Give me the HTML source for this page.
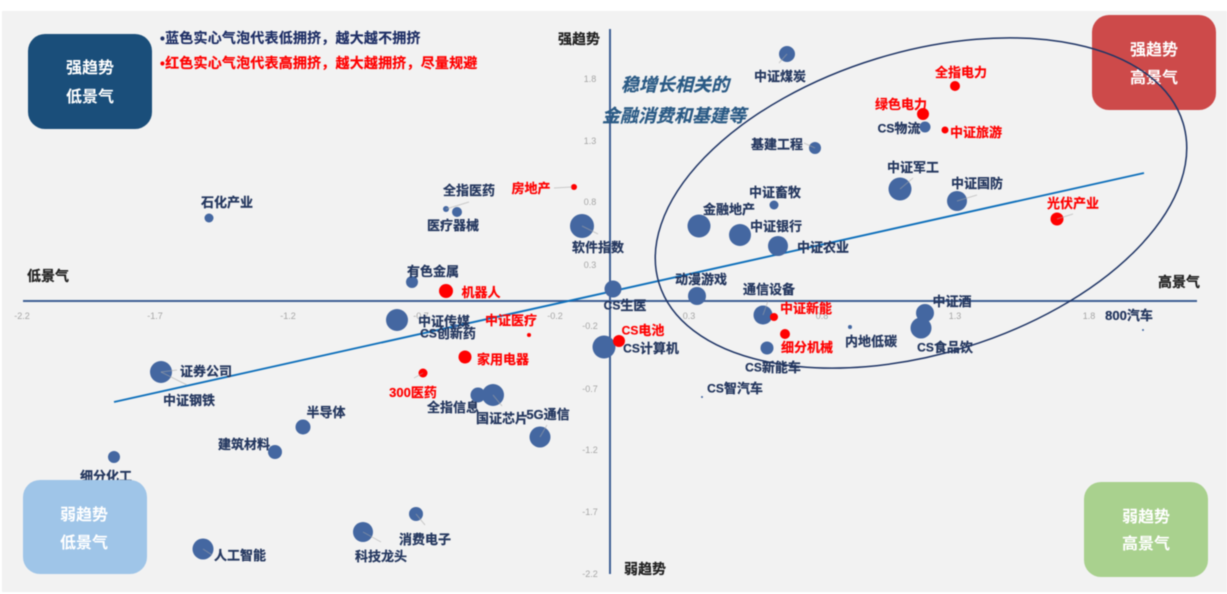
<!DOCTYPE html>
<html lang="zh"><head><meta charset="utf-8"><title>景气趋势气泡图</title>
<style>
html,body{margin:0;padding:0;background:#fff;width:1227px;height:594px;overflow:hidden}
svg{display:block;filter:blur(.5px)}
text{font-family:"Liberation Sans","Noto Sans CJK SC",sans-serif;font-weight:700;text-anchor:middle;dominant-baseline:central}
.l{font-size:13px;fill:#24375f;stroke:#24375f;stroke-width:.25;transform:translate(0,.5px)}
.r{font-size:13px;fill:#f00;stroke:#f00;stroke-width:.2;transform:translate(0,.5px)}
.t{font-size:9px;font-weight:400;fill:#a6a6a6}
.a{font-size:14px;fill:#222;stroke:#222;stroke-width:.2}
.b{font-size:16px;fill:#fff;transform:translate(0,.5px)}
.i{font-size:18px;fill:#2a5a85;stroke:#2a5a85;stroke-width:.2;font-style:italic}
.lg{font-size:14px;text-anchor:start;stroke-width:.2;letter-spacing:.2px}
.cs{font-size:12px}
.bb circle{fill:#4467a1}
.rb circle{fill:#f00}
.ld line{stroke:#a8a8a8;stroke-width:1;stroke-opacity:.55}
</style></head><body>
<svg width="1227" height="594" viewBox="0 0 1227 594" xmlns="http://www.w3.org/2000/svg">
<rect x="2" y="11" width="1225" height="581" fill="#f2f2f2"/>

<!-- Axes -->
<line x1="23" y1="301" x2="1197" y2="301" stroke="#3f5f95" stroke-width="2"/>
<line x1="610" y1="29" x2="610" y2="574" stroke="#3f5f95" stroke-width="2"/>

<!-- Ticks -->
<g class="t">
<text class="t" x="22" y="316">-2.2</text><text class="t" x="155" y="316">-1.7</text><text class="t" x="288" y="316">-1.2</text><text class="t" x="421" y="316">-0.7</text><text class="t" x="555" y="316">-0.2</text><text class="t" x="689" y="316">0.3</text><text class="t" x="822" y="316">0.8</text><text class="t" x="955" y="316">1.3</text><text class="t" x="1089" y="316">1.8</text>
<text class="t" x="590" y="79">1.8</text><text class="t" x="590" y="141">1.3</text><text class="t" x="590" y="202">0.8</text><text class="t" x="590" y="265">0.3</text><text class="t" x="590" y="326">-0.2</text><text class="t" x="590" y="389">-0.7</text><text class="t" x="590" y="450">-1.2</text><text class="t" x="590" y="512">-1.7</text><text class="t" x="590" y="574">-2.2</text>
</g>

<!-- Red quadrant box -->
<rect x="1092" y="15" width="124" height="95" rx="17" fill="#cd4a4a"/>
<text class="b" x="1154" y="50">强趋势</text><text class="b" x="1154" y="78">高景气</text>

<!-- Trend line and ellipse -->
<line x1="114" y1="402" x2="1144" y2="173" stroke="#0f70bb" stroke-width="1.9"/>
<ellipse cx="921" cy="203" rx="274" ry="151" transform="rotate(-17 921 203)" fill="none" stroke="#1f3566" stroke-width="1.5"/>

<!-- Blue bubbles -->
<g class="bb">
<circle cx="787" cy="54" r="8"/><circle cx="925" cy="127" r="5.5"/><circle cx="815" cy="148" r="6"/><circle cx="900" cy="189" r="11.5"/><circle cx="957" cy="201" r="10"/><circle cx="774" cy="205" r="4.5"/><circle cx="699" cy="226" r="11.5"/><circle cx="740" cy="235" r="11"/><circle cx="778" cy="246" r="10"/><circle cx="697" cy="296" r="9"/><circle cx="763" cy="315" r="9.5"/><circle cx="767" cy="348" r="6.5"/><circle cx="850" cy="327" r="2"/><circle cx="925" cy="313" r="9"/><circle cx="921" cy="328" r="10.5"/><circle cx="1143" cy="330" r="1"/><circle cx="702" cy="397" r="1"/><circle cx="604" cy="347" r="11.5"/><circle cx="613" cy="289" r="8.5"/><circle cx="582" cy="226" r="12"/><circle cx="446" cy="209" r="3"/><circle cx="457" cy="212" r="5"/><circle cx="209" cy="218" r="4.5"/><circle cx="412" cy="282" r="6"/><circle cx="397" cy="320" r="11"/><circle cx="455" cy="326" r="2"/><circle cx="478" cy="395" r="7.5"/><circle cx="493" cy="395" r="11"/><circle cx="540" cy="437" r="10.5"/><circle cx="303" cy="427" r="7.5"/><circle cx="275" cy="452" r="7"/><circle cx="114" cy="457" r="6"/><circle cx="161" cy="372" r="11"/><circle cx="416" cy="514" r="7"/><circle cx="363" cy="532" r="10"/><circle cx="203" cy="549" r="10.5"/>
</g>

<!-- Red bubbles -->
<g class="rb">
<circle cx="955" cy="86" r="5"/><circle cx="923" cy="114" r="6"/><circle cx="945" cy="130" r="3.5"/><circle cx="1057" cy="219" r="6.5"/><circle cx="774" cy="317" r="4"/><circle cx="785" cy="334" r="5"/><circle cx="619" cy="341" r="6"/><circle cx="574" cy="187" r="3"/><circle cx="446" cy="291" r="7"/><circle cx="529" cy="335" r="2"/><circle cx="465" cy="357" r="6.5"/><circle cx="423" cy="373" r="4.5"/>
</g>

<!-- Leader lines -->
<g class="ld">
<line x1="900" y1="189" x2="913" y2="178"/><line x1="957" y1="201" x2="977" y2="195"/><line x1="1057" y1="219" x2="1073" y2="214"/><line x1="554" y1="188" x2="572" y2="187"/><line x1="446" y1="209" x2="469" y2="202"/><line x1="582" y1="226" x2="598" y2="234"/><line x1="161" y1="372" x2="187" y2="385"/><line x1="161" y1="372" x2="177" y2="370"/><line x1="363" y1="532" x2="381" y2="542"/><line x1="416" y1="514" x2="425" y2="525"/><line x1="423" y1="373" x2="414" y2="378"/><line x1="540" y1="437" x2="547" y2="425"/><line x1="493" y1="395" x2="502" y2="406"/><line x1="787" y1="54" x2="779" y2="63"/><line x1="804" y1="143" x2="815" y2="148"/><line x1="203" y1="549" x2="212" y2="555"/><line x1="763" y1="315" x2="768" y2="301"/>
</g>

<!-- Bubble labels -->
<text class="l" x="780" y="76">中证煤炭</text>
<text class="r" x="961" y="72">全指电力</text>
<text class="r" x="901" y="104">绿色电力</text>
<text class="l" x="899" y="128"><tspan class="cs">CS</tspan>物流</text>
<text class="r" x="976" y="132">中证旅游</text>
<text class="l" x="777" y="144">基建工程</text>
<text class="l" x="913" y="167">中证军工</text>
<text class="l" x="977" y="183">中证国防</text>
<text class="r" x="1073" y="203">光伏产业</text>
<text class="l" x="775" y="192">中证畜牧</text>
<text class="l" x="729" y="209">金融地产</text>
<text class="l" x="776" y="226">中证银行</text>
<text class="l" x="823" y="247">中证农业</text>
<text class="l" x="701" y="279">动漫游戏</text>
<text class="l" x="769" y="289">通信设备</text>
<text class="r" x="806" y="308">中证新能</text>
<text class="r" x="807" y="347">细分机械</text>
<text class="l" x="773" y="367"><tspan class="cs">CS</tspan>新能车</text>
<text class="l" x="871" y="341">内地低碳</text>
<text class="l" x="952" y="301">中证酒</text>
<text class="l" x="945" y="347"><tspan class="cs">CS</tspan>食品饮</text>
<text class="l" x="1129" y="315">800汽车</text>
<text class="l" x="735" y="388"><tspan class="cs">CS</tspan>智汽车</text>
<text class="r" x="643" y="330"><tspan class="cs">CS</tspan>电池</text>
<text class="l" x="651" y="348"><tspan class="cs">CS</tspan>计算机</text>
<text class="l" x="625" y="305"><tspan class="cs">CS</tspan>生医</text>
<text class="l" x="598" y="247">软件指数</text>
<text class="r" x="531" y="188">房地产</text>
<text class="l" x="469" y="190">全指医药</text>
<text class="l" x="453" y="225">医疗器械</text>
<text class="l" x="227" y="202">石化产业</text>
<text class="l" x="433" y="271">有色金属</text>
<text class="r" x="481" y="292">机器人</text>
<text class="l" x="444" y="321">中证传媒</text>
<text class="l" x="448" y="333"><tspan class="cs">CS</tspan>创新药</text>
<text class="r" x="511" y="320">中证医疗</text>
<text class="r" x="503" y="359">家用电器</text>
<text class="r" x="413" y="392">300医药</text>
<text class="l" x="453" y="407">全指信息</text>
<text class="l" x="502" y="418">国证芯片</text>
<text class="l" x="548" y="414">5G通信</text>
<text class="l" x="326" y="412">半导体</text>
<text class="l" x="244" y="444">建筑材料</text>
<text class="l" x="106" y="476">细分化工</text>
<text class="l" x="206" y="371">证券公司</text>
<text class="l" x="189" y="400">中证钢铁</text>
<text class="l" x="425" y="539">消费电子</text>
<text class="l" x="381" y="556">科技龙头</text>
<text class="l" x="240" y="555">人工智能</text>

<!-- Axis titles -->
<text class="a" x="579" y="39">强趋势</text>
<text class="a" x="48" y="276">低景气</text>
<text class="a" x="1179" y="282">高景气</text>
<text class="a" x="645" y="569">弱趋势</text>

<!-- Italic annotation -->
<text class="i" x="675" y="85">稳增长相关的</text>
<text class="i" x="674" y="116">金融消费和基建等</text>

<!-- Legend -->
<text class="lg" x="160" y="38" fill="#1f2f66" stroke="#1f2f66">•蓝色实心气泡代表低拥挤&#xFF0C;越大越不拥挤</text>
<text class="lg" x="160" y="63" fill="#f00" stroke="#f00">•红色实心气泡代表高拥挤&#xFF0C;越大越拥挤&#xFF0C;尽量规避</text>

<!-- Other quadrant boxes -->
<rect x="28" y="34" width="124" height="95" rx="17" fill="#1a4e7a"/>
<text class="b" x="90" y="68">强趋势</text><text class="b" x="90" y="97">低景气</text>
<rect x="23" y="480" width="124" height="94" rx="17" fill="#9fc5e8"/>
<text class="b" x="84" y="515">弱趋势</text><text class="b" x="84" y="543">低景气</text>
<rect x="1084" y="482" width="124" height="95" rx="17" fill="#a9d18e"/>
<text class="b" x="1146" y="517">弱趋势</text><text class="b" x="1146" y="544">高景气</text>
</svg>
</body></html>
